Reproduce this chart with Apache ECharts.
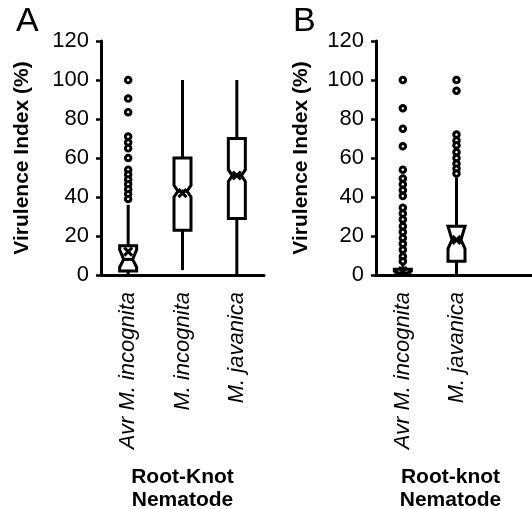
<!DOCTYPE html>
<html>
<head>
<meta charset="utf-8">
<script src="https://cdn.jsdelivr.net/npm/echarts@6/dist/echarts.min.js"></script>
<style>
  html, body { margin: 0; padding: 0; background: #fff; }
  #chart { width: 532px; height: 509px; }
</style>
</head>
<body>
<div id="chart"></div>
<script>
// panel A
const categoriesA = ['Avr M. incognita', 'M. incognita', 'M. javanica']
const minA = [0, 2.5, 0]
const q1A = [2, 23, 29]
const notchLowA = [4, 40, 48]
const medianA = [8, 43, 51]
const notchHighA = [13, 46, 54]
const q3A = [15, 60, 70]
const maxA = [36, 100, 100]
const meanA = [12, 42, 51]
const outliersA = [
  [100, 90.5, 83.5, 71, 68, 65, 60, 54, 51.5, 49, 46.5, 44, 41.5, 39],
  [],
  []
]

// panel B
const categoriesB = ['Avr M. incognita', 'M. javanica', '']
const minB = [0, 0]
const q1B = [0, 7]
const notchLowB = [0, 13.5]
const medianB = [1, 18]
const notchHighB = [2, 25]
const q3B = [3, 25]
const maxB = [6, 50]
const meanB = [2, 18]
const outliersB = [
  [100, 85.5, 75, 66, 54, 49.5, 46.5, 43.5, 40.5, 34.5, 31.5, 28.5, 25, 22, 19, 16, 13, 9.5, 7],
  [100, 94.5, 72, 69, 66.5, 63, 60, 57, 54.5, 52]
]

const yTicks = [0, 20, 40, 60, 80, 100, 120]

const font = 'Liberation Sans, Arial, sans-serif'

function boxData(mins, q1, nLow, med, nHigh, q3, maxs, mean) {
  return mins.map((v, i) => [i, v, q1[i], nLow[i], med[i], nHigh[i], q3[i], maxs[i], mean[i]])
}

function outlierData(list) {
  const out = []
  list.forEach((vals, i) => {
    vals.forEach(v => out.push([i, v]))
  })
  return out
}

function renderBox(params, api) {
  const cat = api.value(0)
  const x = api.coord([cat, 0])[0]
  const y = v => api.coord([cat, v])[1]
  const hw = 8.5
  const inset = 4
  const yMin = y(api.value(1))
  const yQ1 = y(api.value(2))
  const yNL = y(api.value(3))
  const yMed = y(api.value(4))
  const yNH = y(api.value(5))
  const yQ3 = y(api.value(6))
  const yMax = y(api.value(7))
  const yMean = y(api.value(8))
  const line = { stroke: '#000', lineWidth: 3 }
  const m = 4
  return {
    type: 'group',
    children: [
      { type: 'line', shape: { x1: x, y1: yMin, x2: x, y2: yQ1 }, style: line },
      { type: 'line', shape: { x1: x, y1: yQ3, x2: x, y2: yMax }, style: line },
      {
        type: 'polygon',
        shape: {
          points: [
            [x - hw, yQ3], [x + hw, yQ3], [x + hw, yNH], [x + hw - inset, yMed],
            [x + hw, yNL], [x + hw, yQ1], [x - hw, yQ1], [x - hw, yNL],
            [x - hw + inset, yMed], [x - hw, yNH]
          ]
        },
        style: { fill: '#fff', stroke: '#000', lineWidth: 3, lineJoin: 'miter' }
      },
      { type: 'line', shape: { x1: x - hw + inset, y1: yMed, x2: x + hw - inset, y2: yMed }, style: line },
      { type: 'line', shape: { x1: x - m, y1: yMean - m, x2: x + m, y2: yMean + m }, style: line },
      { type: 'line', shape: { x1: x - m, y1: yMean + m, x2: x + m, y2: yMean - m }, style: line }
    ]
  }
}

function xAxis(idx, cats, name, namePad) {
  return {
    type: 'category',
    gridIndex: idx,
    data: cats,
    boundaryGap: true,
    axisLine: { lineStyle: { color: '#000', width: 3 } },
    axisTick: { length: 5, lineStyle: { color: '#000', width: 2.5 } },
    axisLabel: {
      interval: 0,
      rotate: 90,
      margin: 17,
      color: '#000',
      fontSize: 22,
      fontStyle: 'italic',
      fontFamily: font
    },
    name: name,
    nameLocation: 'middle',
    nameGap: 191,
    nameTextStyle: {
      color: '#000',
      fontSize: 21,
      fontWeight: 'bold',
      fontFamily: font,
      lineHeight: 23,
      padding: namePad
    }
  }
}

function yAxis(idx, gap) {
  return {
    type: 'value',
    gridIndex: idx,
    min: 0,
    max: 120,
    interval: 20,
    splitLine: { show: false },
    axisLine: { show: true, lineStyle: { color: '#000', width: 3 } },
    axisTick: { show: true, length: 5, lineStyle: { color: '#000', width: 2.5 } },
    axisLabel: {
      margin: 12,
      color: '#000',
      fontSize: 22,
      fontFamily: font,
      formatter: v => (yTicks.indexOf(v) >= 0 ? String(v) : '')
    },
    name: 'Virulence Index (%)',
    nameLocation: 'middle',
    nameGap: gap,
    nameTextStyle: {
      color: '#000',
      fontSize: 21,
      fontWeight: 'bold',
      fontFamily: font
    }
  }
}

const scatterStyle = {
  type: 'scatter',
  symbol: 'circle',
  symbolSize: 5.5,
  itemStyle: { color: '#fff', borderColor: '#000', borderWidth: 3, opacity: 1 },
  z: 3
}

const chart = echarts.init(document.getElementById('chart'), null, { renderer: 'canvas' })
chart.setOption({
  backgroundColor: '#fff',
  animation: false,
  title: [
    { text: 'A', left: 11, top: 0, textStyle: { fontSize: 34, fontWeight: 'normal', color: '#000', fontFamily: font } },
    { text: 'B', left: 288, top: 0, textStyle: { fontSize: 34, fontWeight: 'normal', color: '#000', fontFamily: font } }
  ],
  grid: [
    { left: 101, width: 163, top: 41, bottom: 234, outerBoundsMode: 'none' },
    { left: 376, right: -5, top: 41, bottom: 234, outerBoundsMode: 'none' }
  ],
  xAxis: [
    xAxis(0, categoriesA, 'Root-Knot\nNematode', [0, 0, 0, 0]),
    xAxis(1, categoriesB, 'Root-knot\nNematode', [0, 12, 0, 0])
  ],
  yAxis: [yAxis(0, 68), yAxis(1, 64)],
  series: [
    {
      type: 'custom',
      xAxisIndex: 0,
      yAxisIndex: 0,
      renderItem: renderBox,
      data: boxData(minA, q1A, notchLowA, medianA, notchHighA, q3A, maxA, meanA),
      z: 2
    },
    Object.assign({ xAxisIndex: 0, yAxisIndex: 0, data: outlierData(outliersA) }, scatterStyle),
    {
      type: 'custom',
      xAxisIndex: 1,
      yAxisIndex: 1,
      renderItem: renderBox,
      data: boxData(minB, q1B, notchLowB, medianB, notchHighB, q3B, maxB, meanB),
      z: 2
    },
    Object.assign({ xAxisIndex: 1, yAxisIndex: 1, data: outlierData(outliersB) }, scatterStyle)
  ]
})
</script>
</body>
</html>
